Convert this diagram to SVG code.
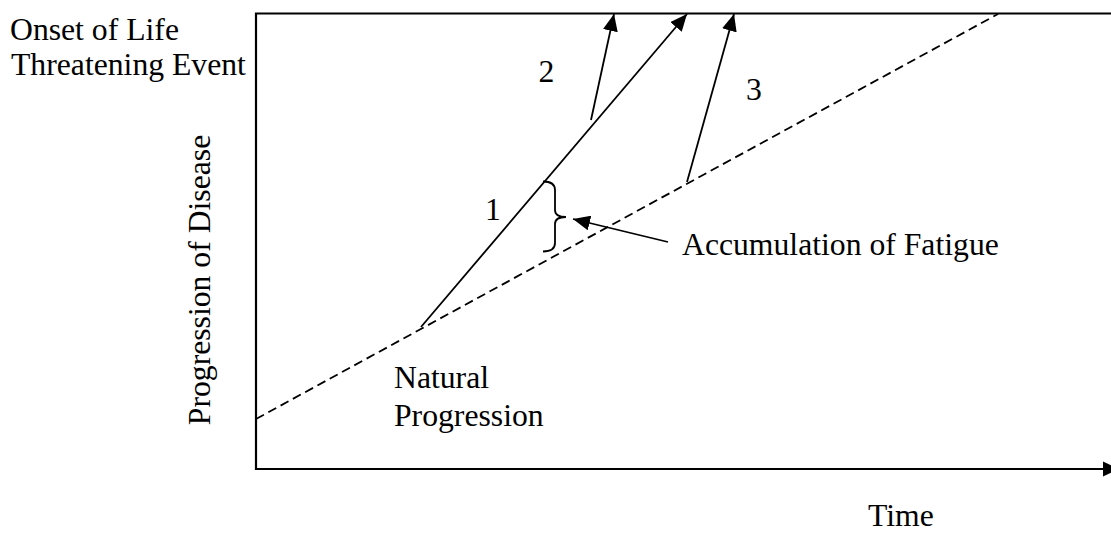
<svg xmlns="http://www.w3.org/2000/svg" width="1111" height="533" viewBox="0 0 1111 533">
<style>
  text { font-family: "Liberation Serif", "Times New Roman", serif; font-size: 31.7px; fill: #000; }
  .axis { stroke: #000; stroke-width: 2.2; fill: none; }
  .arr { stroke: #000; stroke-width: 1.8; fill: none; }
  .dash { stroke: #000; stroke-width: 1.8; fill: none; stroke-dasharray: 9 5; }
</style>
<defs>
  <marker id="ah" viewBox="0 0 17 15" refX="17" refY="7.5" markerWidth="17" markerHeight="15" markerUnits="userSpaceOnUse" orient="auto">
    <path d="M0,0 L17,7.5 L0,15 Z" fill="#000"/>
  </marker>
</defs>
<rect width="1111" height="533" fill="#fff"/>
<g id="axes">
  <path class="axis" d="M1111,13.5 L256,13.5 L256,469 L1103,469"/>
  <path d="M1103,461.5 L1119,469 L1103,476.5 Z" fill="#000"/>
</g>
<g id="connectors">
  <path class="dash" d="M256,419 L998,14"/>
  <line class="arr" x1="421" y1="327" x2="687" y2="14" marker-end="url(#ah)"/>
  <line class="arr" x1="591" y1="120" x2="614" y2="14" marker-end="url(#ah)"/>
  <line class="arr" x1="687" y1="182" x2="734" y2="14" marker-end="url(#ah)"/>
  <line class="arr" x1="668" y1="242" x2="573" y2="219" marker-end="url(#ah)"/>
  <path class="arr" d="M543,181.5 Q555,181.5 555,190 L555,210 Q555,217 566,217 Q555,217 555,224 L555,243 Q555,251.5 543,251.5"/>
</g>
<g id="label-onset">
  <text x="10" y="39.5">Onset of Life</text>
  <text x="11" y="75">Threatening Event</text>
</g>
<g id="label-yaxis">
  <text transform="translate(210,280) rotate(-90)" text-anchor="middle">Progression of Disease</text>
</g>
<g id="label-1"><text x="493" y="220" text-anchor="middle">1</text></g>
<g id="label-2"><text x="546.5" y="81.5" text-anchor="middle">2</text></g>
<g id="label-3"><text x="754" y="100" text-anchor="middle">3</text></g>
<g id="label-fatigue"><text x="682" y="255">Accumulation of Fatigue</text></g>
<g id="label-natural">
  <text x="394" y="388">Natural</text>
  <text x="394" y="425.5">Progression</text>
</g>
<g id="label-time"><text x="868" y="526">Time</text></g>
</svg>
